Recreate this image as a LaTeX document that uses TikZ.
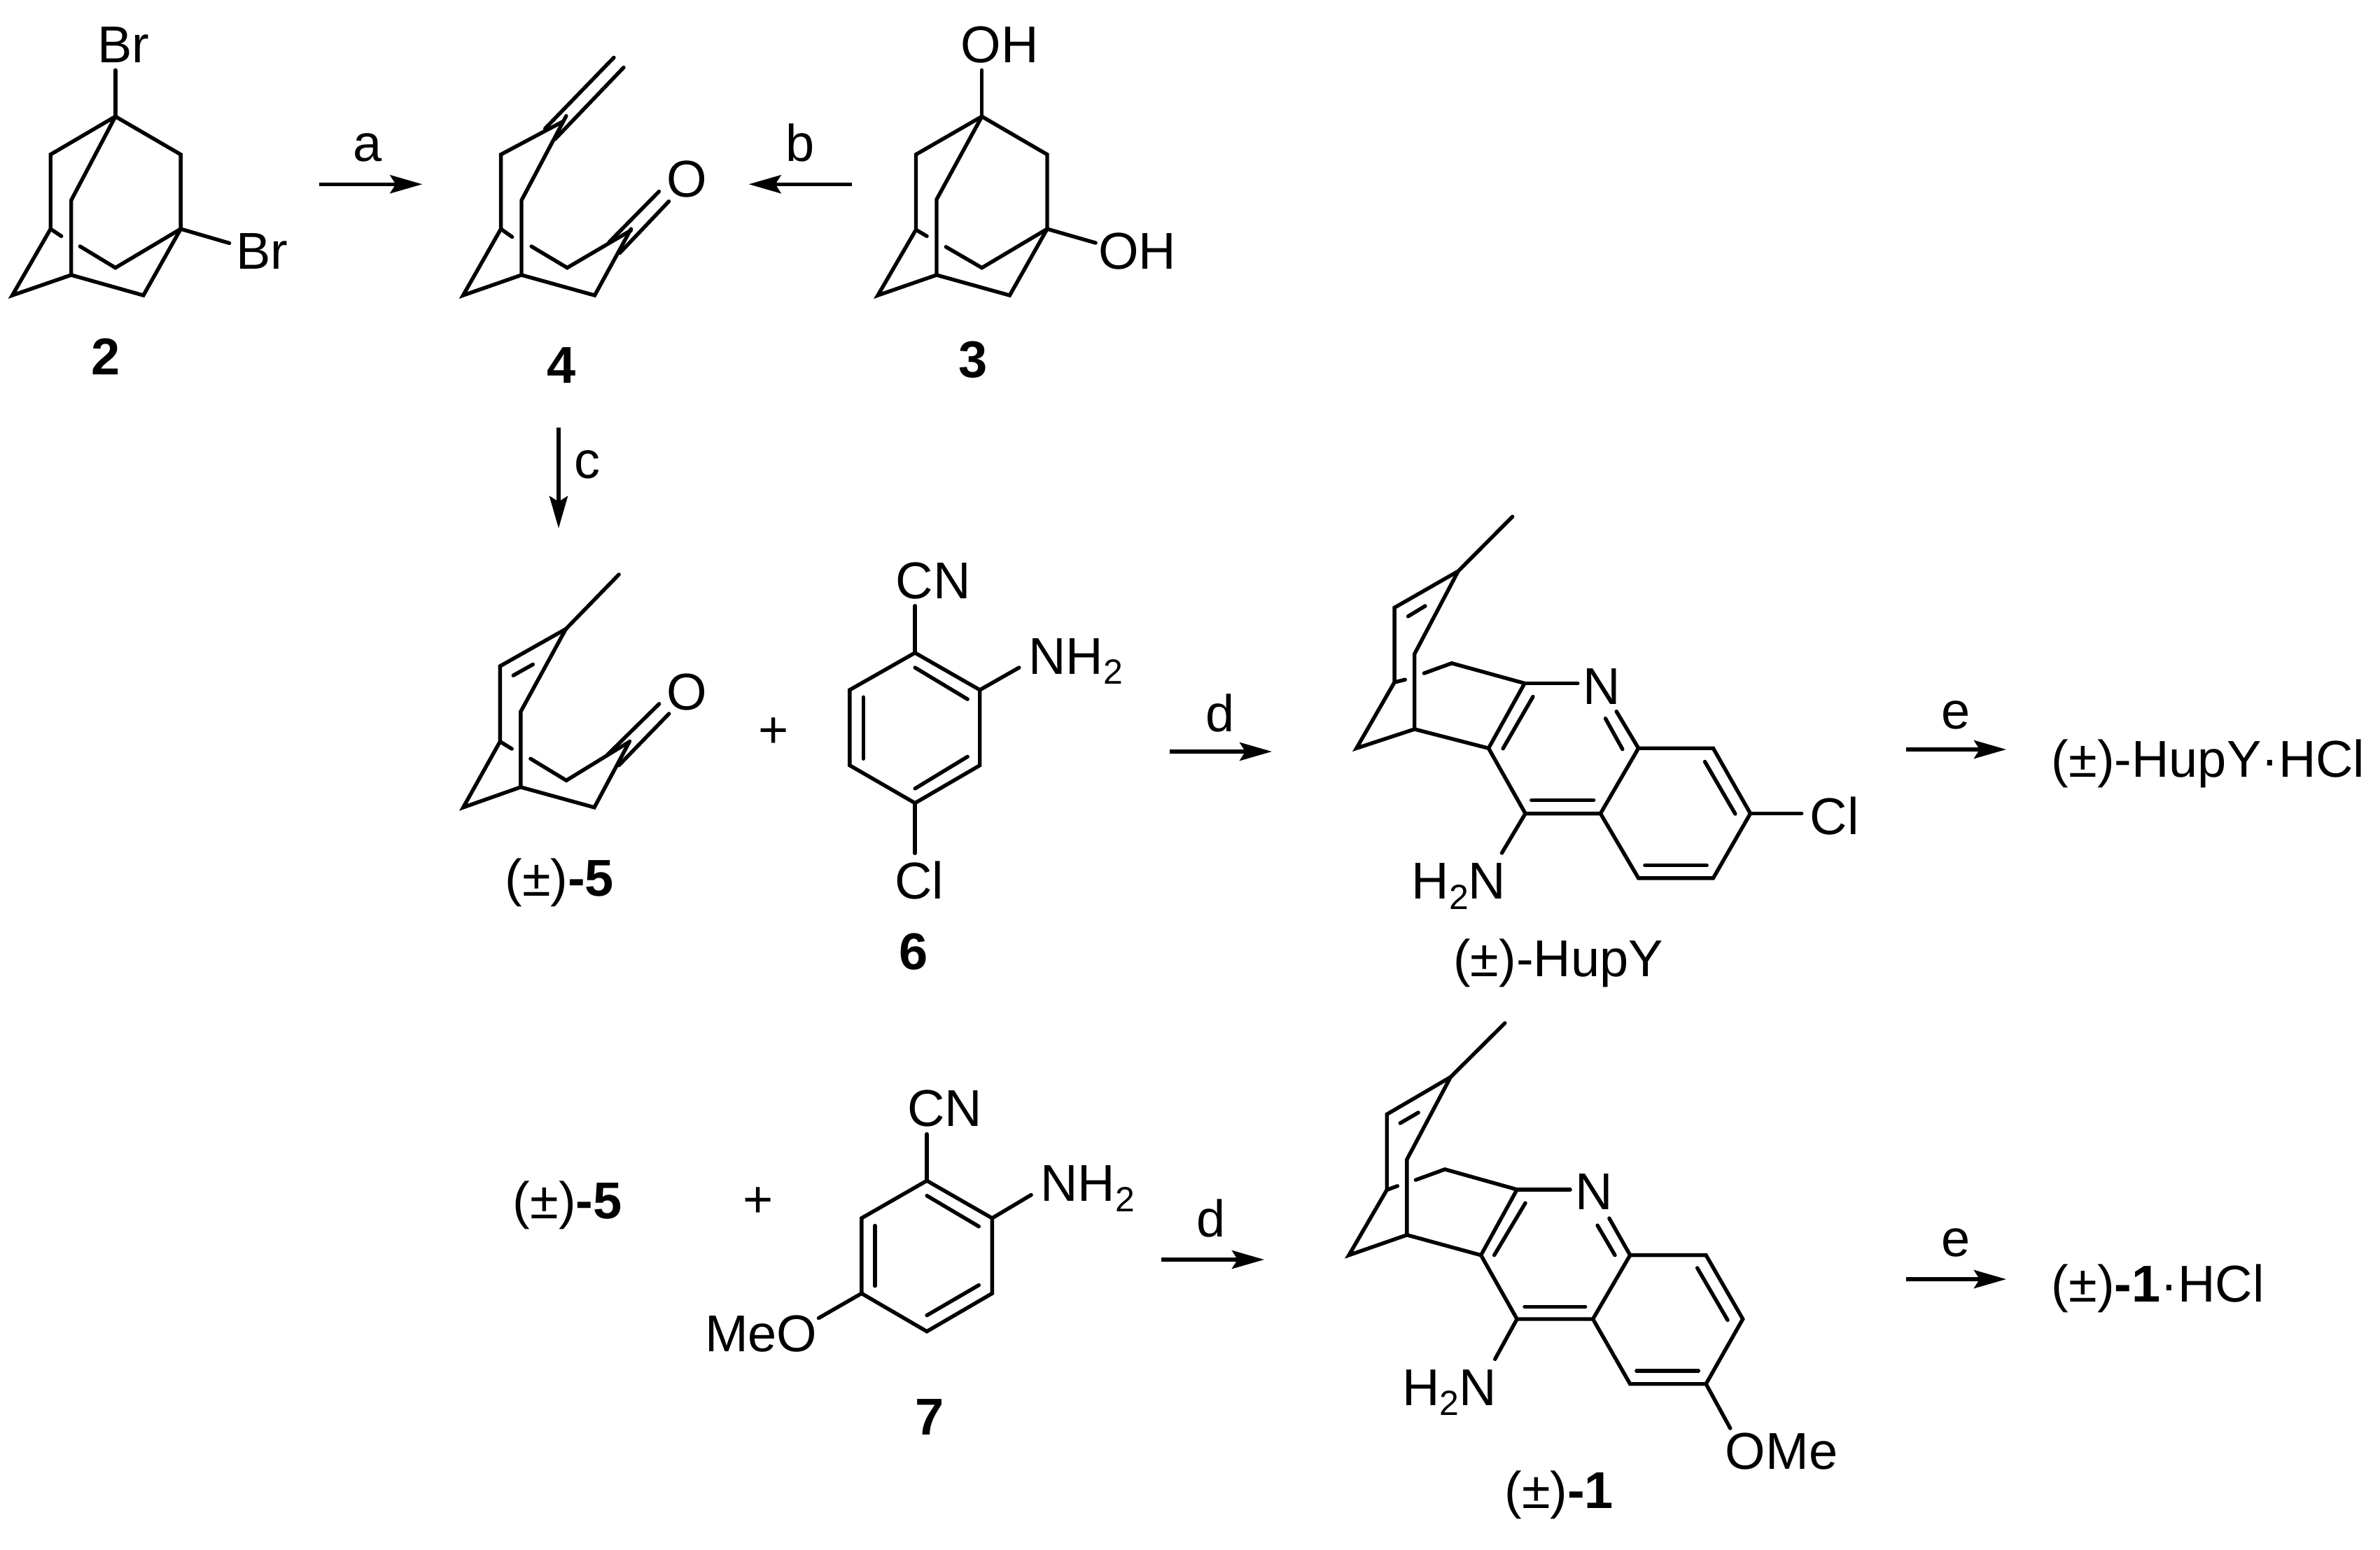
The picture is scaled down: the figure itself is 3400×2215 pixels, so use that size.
\documentclass[tikz,border=0pt]{standalone}
\usepackage{fontspec}
\setmainfont{Liberation Sans}
\usetikzlibrary{arrows.meta}
\newcommand{\subtwo}{\raisebox{-0.2em}{\fontsize{25}{30}\selectfont 2}}
\tikzset{
  bond/.style={line width=2.7pt,line cap=round,line join=miter},
  rxn/.style={line width=2.7pt,-{Stealth[length=23pt,width=13pt,inset=4pt]}},
  lab/.style={anchor=base west,inner sep=0pt,xshift=-2.3pt,font=\fontsize{37}{44}\selectfont},
  num/.style={anchor=base,inner sep=0pt,font=\fontsize{37}{44}\selectfont\bfseries},
  plus/.style={anchor=center,inner sep=0pt,font=\fontsize{37}{44}\selectfont},
  cropA/.style={shift={(0,0)},x=0.35077pt,y=-0.19133pt},
  cropB/.style={shift={(1100,0)},x=0.22321pt,y=-0.19133pt},
  cropC/.style={shift={(600,760)},x=0.35077pt,y=-0.20727pt},
  cropD/.style={shift={(1850,700)},x=0.27105pt,y=-0.23916pt},
  cropE/.style={shift={(950,1520)},x=0.27105pt,y=-0.19133pt},
  cropF/.style={shift={(1850,1420)},x=0.27105pt,y=-0.25351pt}
}
\begin{document}
\begin{tikzpicture}[x=0.5pt,y=-0.5pt]
\useasboundingbox (0,0) rectangle (3400,2215);
\fill[white] (0,0) rectangle (3400,2215);
% compounds 2 and 4, arrow a
\begin{scope}[cropA]
\draw[bond] (235,435)--(103,577)--(103,855)--(25,1103)--(145,1027)--(292,1103)--(368,855)--(368,577)--cycle;
\draw[bond] (235,435)--(145,748)--(145,1027);
\draw[bond] (368,855)--(235,1000)--(163,920);
\draw[bond] (103,855)--(125,882);
\draw[bond] (235,435)--(235,262);
\draw[bond] (368,855)--(467,908);
\node[lab] (br1) at (205,235) {Br};
\node[lab] (br2) at (487,1006) {Br};
\node[num] (n2) at (216,1400) {2};
\draw[bond] (1145,455)--(1020,577)--(1020,855)--(943,1103)--(1062,1027)--(1211,1103)--(1285,855);
\draw[bond] (1153,433)--(1062,748)--(1062,1027);
\draw[bond] (1250,215)--(1110,480);
\draw[bond] (1270,252)--(1130,520);
\draw[bond] (1082,920)--(1155,1000)--(1285,860);
\draw[bond] (1020,855)--(1043,885);
\draw[bond] (1342,715)--(1240,905);
\draw[bond] (1362,752)--(1262,945);
\node[lab] (o4) at (1363,735) {O};
\node[num] (n4) at (1143,1430) {4};
\node[lab] (la) at (725,603) {a};
\draw[rxn] (650,688)--(860,688);
\end{scope}
% compound 3, arrow b
\begin{scope}[cropB]
\draw[bond] (678,435)--(467,577)--(467,858)--(345,1103)--(533,1027)--(767,1103)--(887,855)--(887,577)--cycle;
\draw[bond] (678,435)--(533,745)--(533,1027);
\draw[bond] (887,855)--(678,1000)--(563,922);
\draw[bond] (467,858)--(502,882);
\draw[bond] (678,435)--(678,262);
\draw[bond] (887,855)--(1042,907);
\node[lab] (oh1) at (620,233) {OH};
\node[lab] (oh2) at (1060,1005) {OH};
\node[num] (n3) at (650,1410) {3};
\node[lab] (lb) at (60,603) {b};
\draw[rxn] (263,688)--(-68,688);
\end{scope}
% arrow c
\draw[rxn] (798,611)--(798,755);
\node[lab] (lc) at (825,683) {c};
% compounds 5 and 6
\begin{scope}[cropC]
\draw[bond] (405,147)--(297,335)--(163,463)--(163,723)--(88,950)--(205,880)--(355,950)--(427,722);
\draw[bond] (297,335)--(205,620)--(205,880);
\draw[bond] (190,495)--(230,457);
\draw[bond] (163,723)--(187,748);
\draw[bond] (225,782)--(298,857)--(425,725);
\draw[bond] (487,593)--(382,768);
\draw[bond] (507,627)--(405,805);
\node[lab] (o5) at (508,613) {O};
\node[lab] (r5) at (179,1255) {(±)\textbf{-5}};
\node[plus] (p1) at (720,693) {+};
\draw[bond] (1008,417)--(1140,545)--(1140,805)--(1008,935)--(875,805)--(875,545)--cycle;
\draw[bond] (1008,468)--(1115,577);
\draw[bond] (903,570)--(903,782);
\draw[bond] (1115,775)--(1008,885);
\draw[bond] (1008,417)--(1008,255);
\draw[bond] (1008,935)--(1008,1108);
\draw[bond] (1140,545)--(1220,468);
\node[lab] (cn6) at (975,230) {CN};
\node[lab] (nh6) at (1245,490) {NH\subtwo};
\node[lab] (cl6) at (973,1265) {Cl};
\node[num] (n6) at (1005,1508) {6};
\end{scope}
% arrow d, upper
\draw[rxn] (1671,1074)--(1817,1074);
\node[lab] (ld1) at (1727,1045) {d};
% HupY
\begin{scope}[cropD]
\draw[bond] (573,80)--(430,243)--(262,352)--(262,575)--(162,772)--(315,715)--(510,772)--(605,578)--(413,518)--(340,548);
\draw[bond] (430,243)--(315,490)--(315,715);
\draw[bond] (298,378)--(343,347);
\draw[bond] (262,575)--(290,567);
\draw[bond] (605,578)--(745,578);
\draw[bond] (548,773)--(627,618);
\draw[bond] (510,772)--(607,967)--(805,967)--(905,772)--(1102,772)--(1200,967)--(1102,1160)--(905,1160)--(805,967);
\draw[bond] (623,927)--(787,927);
\draw[bond] (905,772)--(847,662);
\draw[bond] (863,775)--(818,683);
\draw[bond] (1080,812)--(1160,968);
\draw[bond] (922,1122)--(1085,1122);
\draw[bond] (1200,967)--(1335,967);
\draw[bond] (607,967)--(545,1085);
\node[lab] (nh) at (767,640) {N};
\node[lab] (clh) at (1365,1030) {Cl};
\node[lab] (h2nh) at (315,1222) {H\subtwo N};
\node[lab] (rh) at (425,1455) {(±)-HupY};
\end{scope}
% arrow e, upper
\draw[rxn] (2723,1071)--(2866,1071);
\node[lab] (le1) at (2778,1041) {e};
\node[lab] (phcl) at (2935,1110) {(±)-HupY·HCl};
% row three
\node[lab] (r5b) at (737,1741) {(±)\textbf{-5}};
\begin{scope}[cropE]
\node[plus] (p2) at (245,517) {+};
\draw[bond] (690,437)--(862,577)--(862,858)--(690,1000)--(518,858)--(518,577)--cycle;
\draw[bond] (690,493)--(827,608);
\draw[bond] (553,605)--(553,830);
\draw[bond] (827,827)--(690,940);
\draw[bond] (690,437)--(690,263);
\draw[bond] (862,577)--(965,490);
\draw[bond] (518,858)--(405,950);
\node[lab] (cn7) at (647,233) {CN};
\node[lab] (nh7) at (997,513) {NH\subtwo};
\node[lab] (meo) at (113,1075) {MeO};
\node[num] (n7) at (697,1385) {7};
\node[lab] (ld2) at (1408,648) {d};
\end{scope}
\draw[rxn] (1659,1800)--(1806,1800);
% compound 1
\begin{scope}[cropF]
\draw[bond] (553,83)--(410,235)--(242,340)--(242,553)--(142,737)--(295,680)--(490,737)--(585,552)--(395,495)--(318,525);
\draw[bond] (410,235)--(295,467)--(295,680);
\draw[bond] (277,365)--(325,335);
\draw[bond] (242,553)--(270,542);
\draw[bond] (585,552)--(725,552);
\draw[bond] (525,737)--(607,590);
\draw[bond] (490,737)--(585,917)--(785,917)--(883,737)--(1083,737)--(1180,917)--(1083,1100)--(883,1100)--(785,917);
\draw[bond] (605,882)--(765,882);
\draw[bond] (883,737)--(828,633);
\draw[bond] (843,737)--(797,653);
\draw[bond] (1060,773)--(1140,920);
\draw[bond] (900,1063)--(1063,1063);
\draw[bond] (1083,1100)--(1147,1225);
\draw[bond] (585,917)--(527,1030);
\node[lab] (n1) at (747,608) {N};
\node[lab] (h2n1) at (290,1160) {H\subtwo N};
\node[lab] (ome) at (1142,1340) {OMe};
\node[lab] (r1) at (560,1450) {(±)\textbf{-1}};
\end{scope}
\draw[rxn] (2723,1828)--(2866,1828);
\node[lab] (le2) at (2778,1795) {e};
\node[lab] (p1hcl) at (2935,1860) {(±)\textbf{-1}·HCl};
\end{tikzpicture}
\end{document}
